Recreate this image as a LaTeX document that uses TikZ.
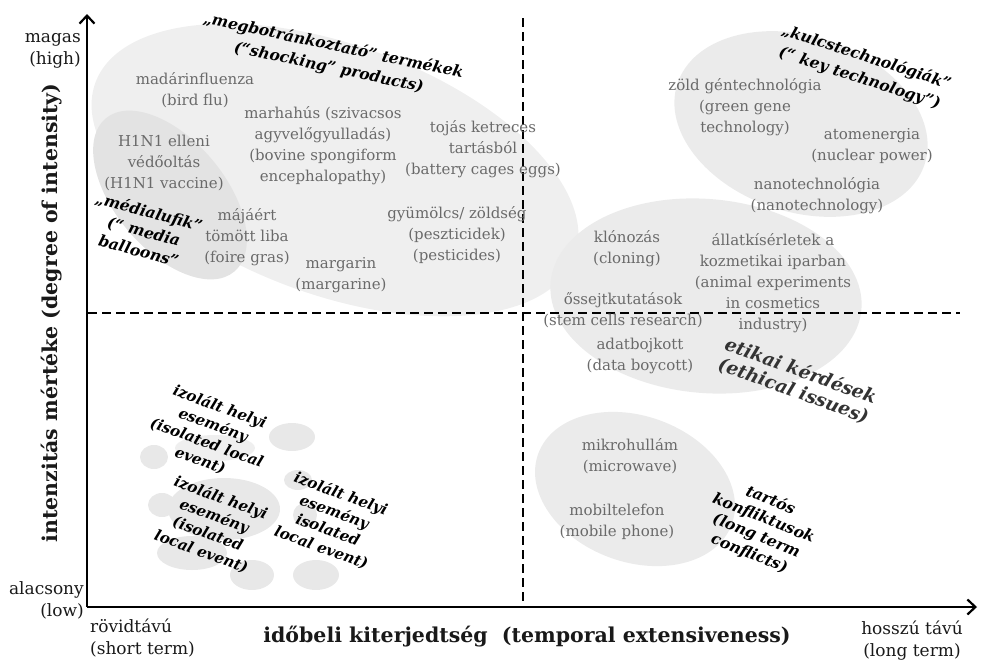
\documentclass[tikz,border=0pt]{standalone}
\usepackage{fontspec}
\setmainfont{DejaVu Serif}
\usetikzlibrary{arrows.meta}
\definecolor{itemgray}{HTML}{6A6A6A}
\definecolor{blobA}{HTML}{EFEFEF}
\definecolor{blobB}{HTML}{E3E3E3}
\definecolor{blobC}{HTML}{EBEBEB}
\definecolor{blobS}{HTML}{E8E8E8}
\definecolor{darklbl}{HTML}{333333}
\begin{document}
\begin{tikzpicture}[x=1pt,y=-1pt,
  item/.style={text=itemgray, font=\fontsize{15}{21}\selectfont, align=center, inner sep=0pt},
  lbl/.style={font=\fontsize{15.5}{22}\selectfont\bfseries\itshape, align=center, inner sep=0pt, text=black},
  isolbl/.style={font=\fontsize{15}{19}\selectfont\bfseries\itshape, align=center, inner sep=0pt, text=black},
  axtext/.style={font=\fontsize{17}{22}\selectfont, inner sep=0pt, text=black!90},
  axtitle/.style={font=\fontsize{20.5}{24}\selectfont\bfseries, inner sep=0pt, text=black!90},
  axisline/.style={line width=2.6pt, -{Straight Barb[length=8pt,width=15pt,line width=2.2pt]}},
  divider/.style={line width=1.6pt, dash pattern=on 9pt off 5pt},
]
\useasboundingbox (0,0) rectangle (983,664);

% ---- grey areas ----
\fill[blobA, rotate around={-20:(335,170)}] (335,170) ellipse [x radius=255pt, y radius=125pt];
\fill[blobB, rotate around={-50:(170,195)}] (170,195) ellipse [x radius=100pt, y radius=55pt];
\fill[blobC, rotate around={-18:(801,124)}] (801,124) ellipse [x radius=130pt, y radius=88pt];
\fill[blobC, rotate around={-5:(706,296)}] (706,296) ellipse [x radius=156pt, y radius=97pt];
\fill[blobC, rotate around={-20:(635,489)}] (635,489) ellipse [x radius=103pt, y radius=73pt];
% small spots
\fill[blobS] (292,437) ellipse [x radius=23pt, y radius=14pt];
\fill[blobS] (154,457) ellipse [x radius=14pt, y radius=12pt];
\fill[blobS!70!white] (215,448) ellipse [x radius=40pt, y radius=13pt];
\fill[blobS] (162,505) ellipse [x radius=14pt, y radius=12pt];
\fill[blobS] (224,509) ellipse [x radius=56pt, y radius=31pt];
\fill[blobS] (192,553) ellipse [x radius=35pt, y radius=17pt];
\fill[blobS] (252,575) ellipse [x radius=22pt, y radius=15pt];
\fill[blobS] (298,480) ellipse [x radius=14pt, y radius=10pt];
\fill[blobS] (305,515) ellipse [x radius=12pt, y radius=12pt];
\fill[blobS] (316,575) ellipse [x radius=23pt, y radius=15pt];

% ---- axes and dividers ----
\coordinate (origin) at (87,607);
\coordinate (ytip) at (87,14);
\coordinate (xtip) at (977,607);
\coordinate (vtop) at (523,18);
\coordinate (vbot) at (523,607);
\coordinate (hleft) at (88,313);
\coordinate (hright) at (960,313);
\draw[divider] (vtop) -- (vbot);
\draw[divider] (hleft) -- (hright);
\draw[axisline] (origin) -- (ytip);
\draw[axisline] (origin) -- (xtip);

% ---- axis texts ----
\node[axtext, anchor=east, align=right] (high) at (81,51) {magas\\(high)};
\node[axtext, anchor=east, align=right] (low) at (84,600) {alacsony\\(low)};
\node[axtext, anchor=west, align=left] (short) at (90,638) {rövidtávú\\(short term)};
\node[axtext, align=center] (long) at (912,641) {hosszú távú\\(long term)};
\node[axtitle] (xtitle) at (527,637) {időbeli kiterjedtség~~(temporal extensiveness)};
\node[axtitle, rotate=90] (ytitle) at (52,313) {intenzitás mértéke (degree of intensity)};

% ---- items ----
\node[item] (birdflu) at (195,90) {madárinfluenza\\(bird flu)};
\node[item] (bse) at (323,146) {marhahús (szivacsos\\agyvelőgyulladás)\\(bovine spongiform\\encephalopathy)};
\node[item] (eggs) at (483,149) {tojás ketreces\\tartásból\\(battery cages eggs)};
\node[item] (hnvacc) at (164,163) {H1N1 elleni\\védőoltás\\(H1N1 vaccine)};
\node[item] (foie) at (247,237) {májáért\\tömött liba\\(foire gras)};
\node[item] (margarin) at (341,275) {margarin\\(margarine)};
\node[item] (pest) at (457,235) {gyümölcs/ zöldség\\(peszticidek)\\(pesticides)};
\node[item] (green) at (745,107) {zöld géntechnológia\\(green gene\\technology)};
\node[item] (nuclear) at (872,146) {atomenergia\\(nuclear power)};
\node[item] (nano) at (817,196) {nanotechnológia\\(nanotechnology)};
\node[item] (cloning) at (627,249) {klónozás\\(cloning)};
\node[item] (animal) at (773,283) {állatkísérletek a\\kozmetikai iparban\\(animal experiments\\in cosmetics\\industry)};
\node[item] (stem) at (623,310) {őssejtkutatások\\(stem cells research)};
\node[item] (databoy) at (640,356) {adatbojkott\\(data boycott)};
\node[item] (micro) at (630,456) {mikrohullám\\(microwave)};
\node[item] (mobile) at (617,522) {mobiltelefon\\(mobile phone)};

% ---- group labels ----
\node[lbl, rotate=-12] (shocking) at (331,57) {„megbotránkoztató” termékek\\(“shocking” products)};
\node[lbl, rotate=-18] (keytech) at (863,68) {„kulcstechnológiák”\\(“ key technology”)};
\node[lbl, rotate=-15, font=\fontsize{15.5}{20}\selectfont\bfseries\itshape] (media) at (144,231) {„médialufik”\\(“ media\\balloons”};
\node[lbl, rotate=-20, text=darklbl, font=\fontsize{18.5}{21}\selectfont\bfseries\itshape] (ethical) at (797,381) {etikai kérdések\\(ethical issues)};
\node[isolbl, rotate=-22, font=\fontsize{15.5}{19}\selectfont\bfseries\itshape] (conflicts) at (760,527) {tartós\\konfliktusok\\(long term\\conflicts)};
\node[isolbl, rotate=-20] (iso1) at (210,434) {izolált helyi\\esemény\\(isolated local\\event)};
\node[isolbl, rotate=-20] (iso2) at (211,525) {izolált helyi\\esemény\\(isolated\\local event)};
\node[isolbl, rotate=-20] (iso3) at (331,521) {izolált helyi\\esemény\\isolated\\local event)};
\end{tikzpicture}
\end{document}
